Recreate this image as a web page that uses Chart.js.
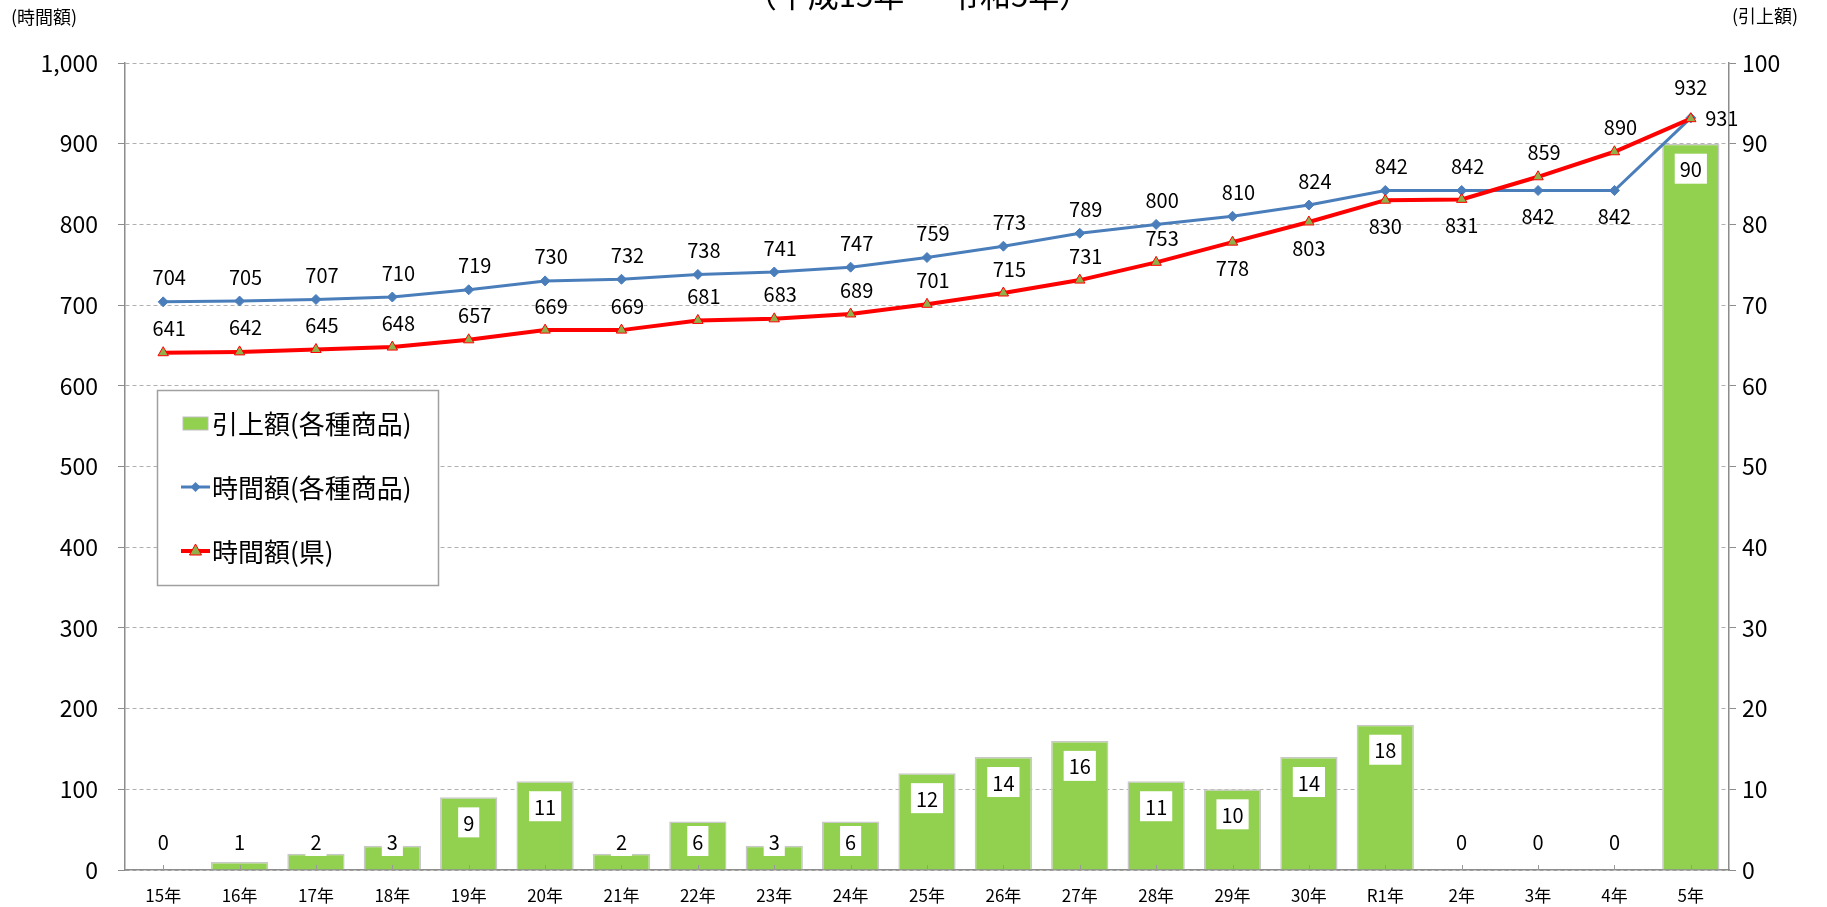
<!DOCTYPE html>
<html><head><meta charset="utf-8">
<script src="https://cdn.jsdelivr.net/npm/chart.js@4.4.1/dist/chart.umd.min.js"></script>
<style>html,body{margin:0;padding:0;background:#fff}#wrap{width:1827px;height:907px;position:relative}</style>
</head><body><div id="wrap"><canvas id="c" width="1827" height="907"></canvas></div>
<script>
const categories = ['15年','16年','17年','18年','19年','20年','21年','22年','23年','24年','25年','26年','27年','28年','29年','30年','R1年','2年','3年','4年','5年'];
const raiseAmount = [0,1,2,3,9,11,2,6,3,6,12,14,16,11,10,14,18,0,0,0,90];
const hourlyProducts = [704,705,707,710,719,730,732,738,741,747,759,773,789,800,810,824,842,842,842,842,932];
const hourlyPref = [641,642,645,648,657,669,669,681,683,689,701,715,731,753,778,803,830,831,859,890,931];
const seriesNames = ['引上額(各種商品)','時間額(各種商品)','時間額(県)'];
const bluePos = ['a','a','a','a','a','a','a','a','a','a','a','a','a','a','a','a','a','a','b','b','a'];
const redPos  = ['a','a','a','a','a','a','a','a','a','a','a','a','a','a','b','b','b','b','a','a','r'];
const titleText = '（平成15年 ～ 令和5年）';
const leftAxisTitle = '(時間額)';
const rightAxisTitle = '(引上額)';

const FONT = "'Noto Sans CJK JP','Noto Sans',sans-serif";
const GREEN = '#92D050', BLUE = '#4A7EBB', RED = '#FF0000', TRI = '#8FB04A';

const labelsPlugin = {
  id: 'labelsPlugin',
  afterDatasetsDraw(chart) {
    const ctx = chart.ctx;
    const x = chart.scales.x, y = chart.scales.y, y2 = chart.scales.y2;
    const zero = y2.getPixelForValue(0);
    ctx.save();
    ctx.strokeStyle = '#999'; ctx.lineWidth = 1;
    categories.forEach((c, i) => {
      const px = Math.round(x.getPixelForValue(i)) + 0.5;
      ctx.beginPath(); ctx.moveTo(px, zero); ctx.lineTo(px, zero - 5); ctx.stroke();
    });
    ctx.font = '20px ' + FONT;
    ctx.textAlign = 'center'; ctx.textBaseline = 'middle';
    const barMeta = chart.getDatasetMeta(0);
    raiseAmount.forEach((v, i) => {
      const el = barMeta.data[i];
      const top = y2.getPixelForValue(v);
      const cy = Math.min(top + 25, zero - 29);
      const txt = String(v);
      const w = ctx.measureText(txt).width + 10, h = 30;
      if (v > 0) { ctx.fillStyle = '#fff'; ctx.fillRect(el.x - w / 2, cy - h / 2, w, h); }
      ctx.fillStyle = '#000';
      ctx.fillText(txt, el.x, cy + 1);
    });
    const drawLine = (vals, pos, axis) => {
      vals.forEach((v, i) => {
        const px = x.getPixelForValue(i), py = axis.getPixelForValue(v);
        let lx = px + 6, ly = py - 24;
        if (pos[i] === 'b') { lx = px; ly = py + 26; }
        if (pos[i] === 'r') { lx = px + 31; ly = py; }
        if (pos[i] === 'a' && i === vals.length - 1) { lx = px; ly = py - 30; }
        ctx.fillStyle = '#000';
        ctx.fillText(String(v), lx, ly);
      });
    };
    drawLine(hourlyProducts, bluePos, y);
    drawLine(hourlyPref, redPos, y);
    ctx.restore();
  },
  afterDraw(chart) {
    const ctx = chart.ctx;
    ctx.save();
    ctx.fillStyle = '#000';
    ctx.font = '31px ' + FONT;
    ctx.textAlign = 'center'; ctx.textBaseline = 'alphabetic';
    ctx.fillText(titleText, 918, 7);
    ctx.font = '18px ' + FONT;
    ctx.textBaseline = 'middle'; ctx.textAlign = 'left';
    ctx.fillText(leftAxisTitle, 11, 17);
    ctx.fillText(rightAxisTitle, 1732, 16);
    const bx = 157.5, by = 390.5, bw = 281, bh = 195;
    ctx.fillStyle = '#fff'; ctx.fillRect(bx, by, bw, bh);
    ctx.strokeStyle = '#A0A0A0'; ctx.lineWidth = 1.5; ctx.strokeRect(bx, by, bw, bh);
    const rows = [423, 487, 551];
    ctx.font = '26px ' + FONT;
    ctx.fillStyle = GREEN; ctx.fillRect(183, rows[0] - 6, 25, 13);
    ctx.strokeStyle = '#BFBFBF'; ctx.lineWidth = 1; ctx.strokeRect(183, rows[0] - 6, 25, 13);
    ctx.strokeStyle = BLUE; ctx.lineWidth = 3;
    ctx.beginPath(); ctx.moveTo(181, rows[1]); ctx.lineTo(210, rows[1]); ctx.stroke();
    ctx.fillStyle = BLUE; ctx.beginPath();
    ctx.moveTo(195.5, rows[1] - 5); ctx.lineTo(200.5, rows[1]); ctx.lineTo(195.5, rows[1] + 5); ctx.lineTo(190.5, rows[1]); ctx.closePath(); ctx.fill();
    ctx.strokeStyle = RED; ctx.lineWidth = 4;
    ctx.beginPath(); ctx.moveTo(181, rows[2]); ctx.lineTo(210, rows[2]); ctx.stroke();
    ctx.fillStyle = TRI; ctx.strokeStyle = RED; ctx.lineWidth = 1;
    ctx.beginPath(); ctx.moveTo(195.5, rows[2] - 7); ctx.lineTo(201.5, rows[2] + 4); ctx.lineTo(189.5, rows[2] + 4); ctx.closePath(); ctx.fill(); ctx.stroke();
    ctx.fillStyle = '#000'; ctx.textAlign = 'left'; ctx.textBaseline = 'middle';
    seriesNames.forEach((n, i) => ctx.fillText(n, 212, rows[i] + 1));
    ctx.restore();
  }
};

new Chart(document.getElementById('c'), {
  data: {
    labels: categories,
    datasets: [
      { type: 'bar', label: seriesNames[0], data: raiseAmount, yAxisID: 'y2', order: 3,
        backgroundColor: GREEN, borderColor: '#C8C8C8', borderWidth: 1.5, borderSkipped: 'bottom',
        categoryPercentage: 1.0, barPercentage: 0.75 },
      { type: 'line', label: seriesNames[1], data: hourlyProducts, yAxisID: 'y', order: 2,
        borderColor: BLUE, borderWidth: 3, pointStyle: 'rectRot', pointRadius: 5,
        pointBackgroundColor: BLUE, pointBorderColor: BLUE, pointBorderWidth: 1, tension: 0 },
      { type: 'line', label: seriesNames[2], data: hourlyPref, yAxisID: 'y', order: 1,
        borderColor: RED, borderWidth: 4, pointStyle: 'triangle', pointRadius: 6,
        pointBackgroundColor: TRI, pointBorderColor: RED, pointBorderWidth: 1, tension: 0 }
    ]
  },
  options: {
    responsive: false, animation: false, devicePixelRatio: 1,
    layout: { padding: { top: 63, left: 0, right: 0, bottom: 0 } },
    plugins: { legend: { display: false }, tooltip: { enabled: false } },
    scales: {
      x: {
        offset: true,
        grid: { display: false, offset: false, drawTicks: false },
        border: { display: true, color: '#8C8C8C', width: 1.5 },
        ticks: { font: { family: FONT, size: 17 }, color: '#000', padding: 15, maxRotation: 0, autoSkip: false },
        afterFit(s) { s.height = 37; }
      },
      y: {
        position: 'left', min: 0, max: 1000,
        ticks: { stepSize: 100, font: { family: FONT, size: 23 }, color: '#000', padding: 20,
          callback: v => v.toLocaleString('en-US') },
        grid: { color: '#B0B0B0', tickColor: '#8C8C8C', tickLength: 7, lineWidth: 1 },
        border: { display: true, color: '#8C8C8C', width: 1.5, dash: [4, 3] },
        afterFit(s) { s.width = 125; }
      },
      y2: {
        position: 'right', min: 0, max: 100,
        ticks: { stepSize: 10, font: { family: FONT, size: 23 }, color: '#000', padding: 6 },
        grid: { drawOnChartArea: false, tickColor: '#8C8C8C', tickLength: 7 },
        border: { display: true, color: '#8C8C8C', width: 1.5 },
        afterFit(s) { s.width = 98; }
      }
    }
  },
  plugins: [labelsPlugin]
});
</script></body></html>
